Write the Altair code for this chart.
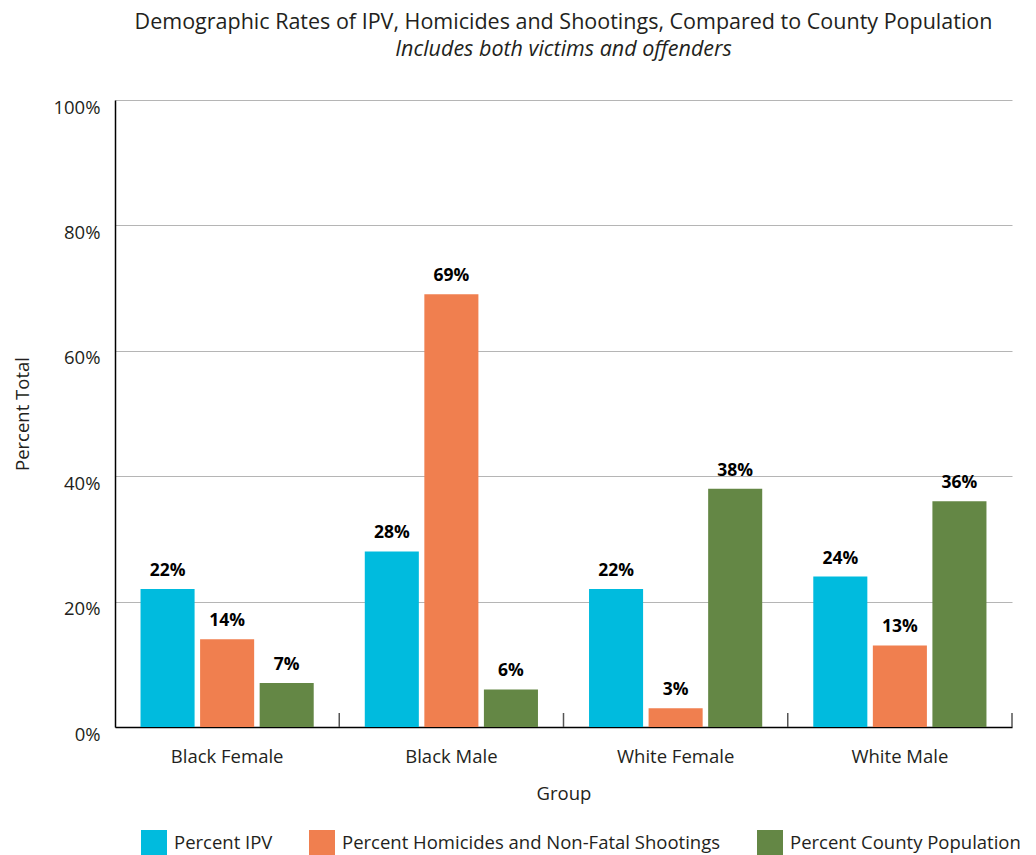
import altair as alt
import pandas as pd

groups = ["Black Female", "Black Male", "White Female", "White Male"]
series = ["Percent IPV", "Percent Homicides and Non-Fatal Shootings", "Percent County Population"]
ipv = [22, 28, 22, 24]
hom = [14, 69, 3, 13]
pop = [7, 6, 38, 36]
colors = ["#00BBDE", "#F07F4F", "#648745"]

rows = []
for s, vals in zip(series, [ipv, hom, pop]):
    for g, v in zip(groups, vals):
        rows.append({"group": g, "series": s, "value": v / 100})
df = pd.DataFrame(rows)
gdf = pd.DataFrame({"group": groups})

FONT = "Open Sans"
TXT = "#231f20"
FS = 18.5

x = alt.X("group:N", sort=groups, title="Group",
          scale=alt.Scale(paddingInner=0, paddingOuter=0),
          axis=alt.Axis(labelAngle=0, ticks=False, labelPadding=20, titlePadding=19,
                        labelFontSize=FS, titleFontSize=FS, labelColor=TXT, titleColor=TXT,
                        titleFontWeight="normal", domainColor="#000000", domainWidth=1.5,
                        labelFont=FONT, titleFont=FONT))
y = alt.Y("value:Q", title="Percent Total",
          scale=alt.Scale(domain=[0, 1]),
          axis=alt.Axis(format=".0%", values=[0, 0.2, 0.4, 0.6, 0.8, 1.0], ticks=False,
                        labelPadding=15, labelOffset=7, titlePadding=20,
                        labelFontSize=FS, titleFontSize=FS, labelColor=TXT, titleColor=TXT,
                        titleFontWeight="normal", gridColor="#b5b5b5", gridWidth=1,
                        domainColor="#000000", domainWidth=1.5,
                        labelFont=FONT, titleFont=FONT))

base = alt.Chart(df).encode(
    x=x,
    xOffset=alt.XOffset("series:N", sort=series,
                        scale=alt.Scale(paddingInner=0.0924, paddingOuter=0.4287)),
    y=y,
)

bars = base.mark_bar().encode(
    color=alt.Color("series:N", sort=series, title=None,
                    scale=alt.Scale(domain=series, range=colors),
                    legend=alt.Legend(orient="none", direction="horizontal", legendX=26, legendY=730,
                                      symbolType="square", symbolSize=676, symbolStrokeWidth=0,
                                      symbolOpacity=1, labelFontSize=18.5, labelFont=FONT,
                                      labelColor=TXT, labelOffset=7, columnPadding=36,
                                      labelLimit=500))
)

labels = base.mark_text(baseline="bottom", dy=-9, fontSize=17.5, fontWeight="bold",
                        font=FONT, color="#000000").encode(
    text=alt.Text("value:Q", format=".0%")
)

ticks = alt.Chart(gdf).mark_rule(color="#555555", strokeWidth=1.5).encode(
    x=alt.X("group:N", sort=groups, bandPosition=1),
    y=alt.value(613),
    y2=alt.value(627),
)

chart = alt.layer(bars, labels, ticks).properties(
    width=897,
    height=627,
    autosize=alt.AutoSizeParams(type="none"),
    padding={"left": 115, "top": 100, "right": 24, "bottom": 128},
    title=alt.TitleParams(
        text="Demographic Rates of IPV, Homicides and Shootings, Compared to County Population",
        subtitle="Includes both victims and offenders",
        anchor="middle", fontSize=21.5, fontWeight="normal", font=FONT, color=TXT,
        subtitleFontSize=21.5, subtitleFontStyle="italic", subtitleFont=FONT,
        subtitleColor=TXT, subtitlePadding=5, offset=38,
    ),
).configure_view(stroke=None)

chart.save("out.html", embed_options={"renderer": "svg", "actions": False})
